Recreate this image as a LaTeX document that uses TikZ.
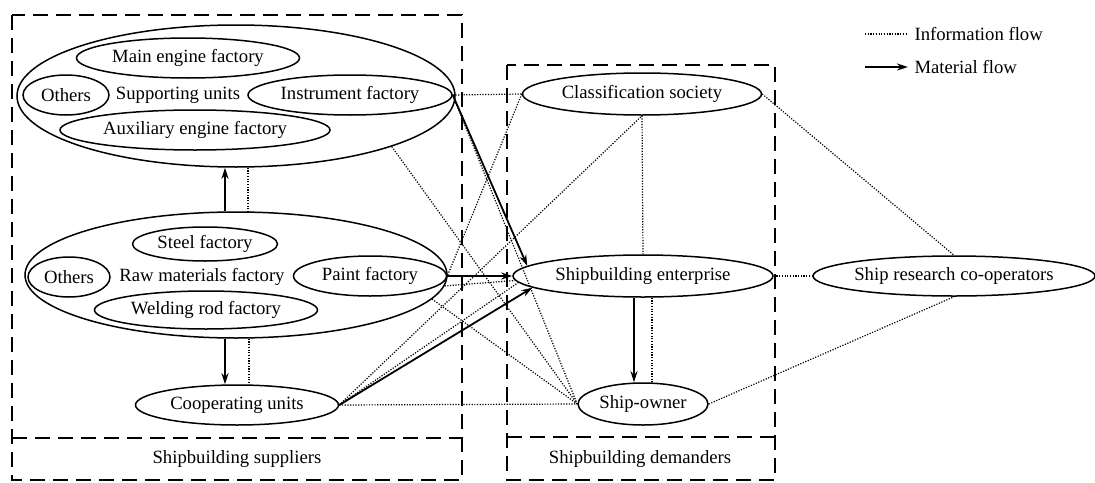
\documentclass[tikz,border=0pt]{standalone}
\usepackage{fontspec}
\setmainfont{Liberation Serif}
\usetikzlibrary{shapes.geometric,arrows.meta}

\begin{document}
\begin{tikzpicture}[x=1pt,y=-1pt,
    font=\fontsize{18.7}{22}\selectfont,
    unit/.style={ellipse,draw,line width=1.5pt,inner sep=0pt},
    group/.style={dash pattern=on 15pt off 8pt,line width=2.1pt},
    info/.style={dash pattern=on 1.2pt off 1.5pt,line width=1.2pt},
    mat/.style={line width=1.8pt,-{Stealth[length=11pt,width=7pt]}}]
\useasboundingbox (0,0) rectangle (1095,482);
% the two dashed groups
\draw[group] (12,15) rectangle (462,480) (12,438) -- (462,438);
\draw[group] (507,65) rectangle (775,480) (507,437) -- (775,437);
\node (suppliersLbl) at (237,459) {Shipbuilding suppliers};
\node (demandersLbl) at (640,459) {Shipbuilding demanders};
% supporting units
\node[unit,minimum width=438pt,minimum height=142pt] (supp) at (236,96) {};
\node (suppText) at (178,95) {Supporting units};
\node[unit,minimum width=223pt,minimum height=40pt] (mainEng) at (188,58) {Main engine factory};
\node[unit,minimum width=86pt,minimum height=40pt] (othersA) at (66,95) {Others};
\node[unit,minimum width=204pt,minimum height=40pt] (instr) at (350,95) {Instrument factory};
\node[unit,minimum width=270pt,minimum height=40pt] (auxEng) at (195,130) {Auxiliary engine factory};
% raw materials
\node[unit,minimum width=422pt,minimum height=126pt] (raw) at (236,275) {};
\node (rawText) at (202,277) {Raw materials factory};
\node[unit,minimum width=145pt,minimum height=34pt] (steel) at (205,244) {Steel factory};
\node[unit,minimum width=82pt,minimum height=40pt] (othersB) at (69,277) {Others};
\node[unit,minimum width=153pt,minimum height=40pt] (paint) at (370,276) {Paint factory};
\node[unit,minimum width=223pt,minimum height=38pt] (welding) at (206,310) {Welding rod factory};
\node[unit,minimum width=203pt,minimum height=40pt] (coop) at (237,405) {Cooperating units};
% demanders and research
\node[unit,minimum width=239pt,minimum height=42pt] (class) at (642,94) {Classification society};
\node[unit,minimum width=260pt,minimum height=42pt] (ent) at (643,276) {Shipbuilding enterprise};
\node[unit,minimum width=130pt,minimum height=42pt] (owner) at (643,404) {Ship-owner};
\node[unit,minimum width=280pt,minimum height=40pt] (research) at (954,276) {Ship research co-operators};
% material flow
\draw[mat] ([xshift=-11pt]raw.north) -- ([xshift=-11pt]supp.south);
\draw[mat] ([xshift=-11pt]raw.south) -- ([xshift=-12pt]coop.north);
\draw[mat] (instr.east) -- (ent.175);
\draw[mat] (paint.east) -- (ent.west);
\draw[mat] (coop.east) -- (ent.186);
\draw[mat] ([xshift=-9pt]ent.south) -- ([xshift=-9pt]owner.north);
% information flow
\draw[info] ([xshift=12pt]supp.south) -- ([xshift=12pt]raw.north);
\draw[info] ([xshift=13pt]raw.south) -- ([xshift=12pt]coop.north);
\draw[info] (instr.east) -- (class.west);
\draw[info] (instr.east) -- (owner.west);
\draw[info] (supp.-18) -- (owner.west);
\draw[info] (class.west) -- (raw.east);
\draw[info] (raw.-3) -- (ent.182);
\draw[info] (raw.-7) -- (owner.west);
\draw[info] (coop.east) -- (class.south);
\draw[info] (coop.east) -- (ent.183);
\draw[info] (coop.east) -- (owner.west);
\draw[info] (class.south) -- (ent.north);
\draw[info] ([xshift=9pt]ent.south) -- ([xshift=9pt]owner.north);
\draw[info] (class.east) -- (research.north);
\draw[info] (ent.east) -- (research.west);
\draw[info] (owner.east) -- (research.south);
% legend
\coordinate (infoA) at (865,34);
\coordinate (infoB) at (906,34);
\coordinate (matA) at (865,67);
\coordinate (matB) at (908,67);
\draw[info] (infoA) -- (infoB);
\draw[mat] (matA) -- (matB);
\node[anchor=west] (infoLbl) at (911,34) {Information flow};
\node[anchor=west] (matLbl) at (911,67) {Material flow};
\end{tikzpicture}
\end{document}
